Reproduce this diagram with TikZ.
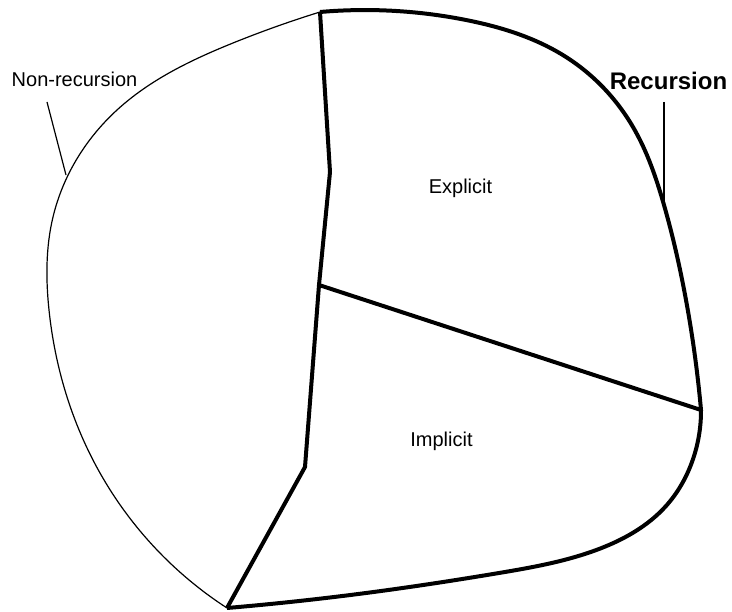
\documentclass[tikz,border=0pt]{standalone}
\usepackage{fontspec}
\setmainfont{Liberation Sans}
\usetikzlibrary{hobby}

\begin{document}
\begin{tikzpicture}[x=1pt, y=-1pt,
    every node/.style={font=\fontsize{20}{24}\selectfont, inner sep=0pt, anchor=base},
    bound/.style={line width=4pt, line join=round},
    side/.style={line width=1.2pt}]
    \useasboundingbox (0,0) rectangle (732,612);
    %% corner points of the regions
    \coordinate (top) at (320,12);
    \coordinate (knee) at (330,172);
    \coordinate (mid) at (319,285);
    \coordinate (low) at (305,467);
    \coordinate (bot) at (227,608);
    \coordinate (east) at (701,410);
    % non-recursion side
    \draw [side] (top) to[curve through={(233,43) (117,110) (53,217) (49,310) (100,473)}] (bot);
    % recursion outline
    \draw [bound] (top) to[curve through={(466,20) (566,57) (633,127) (664,205) (686,300)}] (east);
    \draw [bound] (east) to[curve through={(692,462) (666,506) (599,549) (499,573) (366,593)}] (bot);
    \draw [bound] (top) -- (knee) -- (mid) -- (low) -- (bot);
    \draw [bound] (mid) -- (east);

    \node (nonrec) at (74.5,87) {Non-recursion};
    \node [font=\fontsize{24}{28}\selectfont\bfseries] (rec) at (668.5,90) {Recursion};
    \node (expl) at (460.5,194) {Explicit};
    \node (impl) at (441.5,447) {Implicit};

    \coordinate (nrtop) at (47,102);
    \coordinate (nrfoot) at (66,175);
    \coordinate (rtop) at (664,102);
    \coordinate (rfoot) at (664,205);
    \draw [side] (nrtop) -- (nrfoot);
    \draw [side] (rtop) -- (rfoot);
\end{tikzpicture}
\end{document}
